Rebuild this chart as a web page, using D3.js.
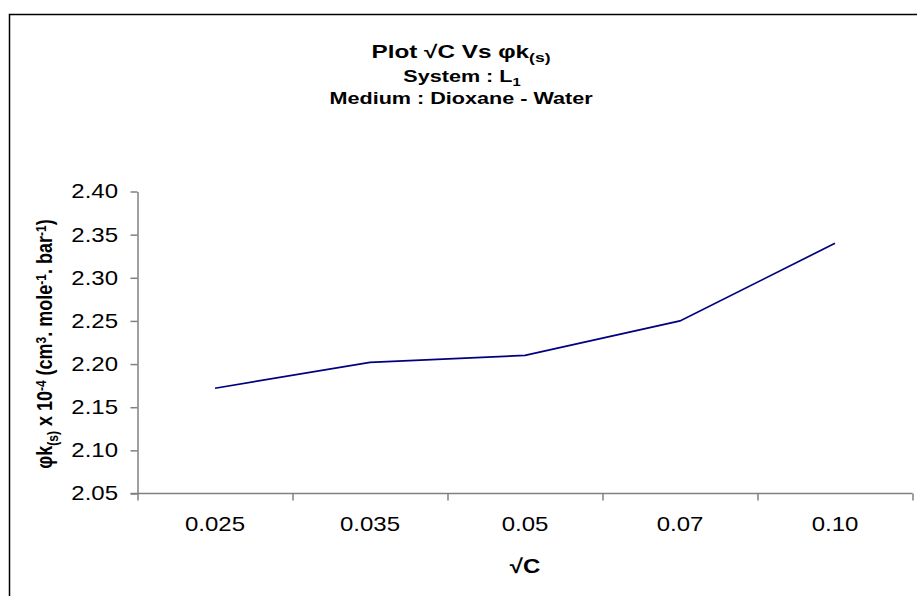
<!DOCTYPE html>
<html>
<head>
<meta charset="utf-8">
<script src="https://cdn.jsdelivr.net/npm/d3@7"></script>
<style>
  body { margin: 0; background: #fff; }
  svg { font-family: Arial, "Liberation Sans", sans-serif; }
</style>
</head>
<body>
<div id="chart"></div>
<script>
// data
const categories = ["0.025", "0.035", "0.05", "0.07", "0.10"];
const phiK = [2.172, 2.202, 2.210, 2.250, 2.340];
const yTicks = [2.05, 2.10, 2.15, 2.20, 2.25, 2.30, 2.35, 2.40];

const width = 917;
const height = 596;
const margin = { top: 191.5, left: 137.5, right: 4.5, bottom: 102.5 };
// the original chart was stretched sideways, so its text is wider than it is tall
const stretch = 1.2;
const titleStretch = 1.35;

const svg = d3.select("#chart").append("svg")
    .attr("width", width)
    .attr("height", height);

// outer chart border (runs off the right and bottom edges)
svg.append("rect")
    .attr("x", 9.5)
    .attr("y", 14.5)
    .attr("width", 1000)
    .attr("height", 1000)
    .attr("fill", "none")
    .attr("stroke", "#000")
    .attr("stroke-width", 1.5);

const xBand = d3.scaleBand().domain(categories).range([margin.left, width - margin.right]);
const xEdge = d3.scaleLinear().domain([0, categories.length]).range([margin.left, width - margin.right]);
const y = d3.scaleLinear().domain([2.05, 2.40]).range([height - margin.bottom, margin.top]);

// y axis
const yAxis = svg.append("g")
    .attr("transform", `translate(${margin.left},0)`)
    .call(d3.axisLeft(y).tickValues(yTicks).tickFormat(d3.format(".2f")).tickSize(7).tickSizeOuter(0));
yAxis.selectAll("text").attr("x", -19.5 / stretch);

// x axis: ticks on category edges, labels at band centres
const xTickAxis = svg.append("g")
    .attr("transform", `translate(0,${height - margin.bottom})`)
    .call(d3.axisBottom(xEdge).tickValues(d3.range(categories.length + 1)).tickFormat("").tickSize(7).tickSizeOuter(0));

xTickAxis.select(".domain").attr("d", `M${margin.left - 7},0H${width - margin.right}`);

const xLabelAxis = svg.append("g")
    .attr("transform", `translate(0,${height - margin.bottom})`)
    .call(d3.axisBottom(xBand).tickSize(0).tickSizeOuter(0));
xLabelAxis.select(".domain").remove();
xLabelAxis.selectAll("text").attr("dy", null).attr("y", 38);

svg.selectAll(".domain, .tick line")
    .attr("stroke", "#808080")
    .attr("stroke-width", 1.5);

svg.selectAll(".tick text")
    .attr("fill", "#000")
    .attr("transform", `scale(${stretch},1)`)
    .style("font-size", "20px");

// the line
const line = d3.line()
    .x((d, i) => xBand(categories[i]) + xBand.bandwidth() / 2)
    .y(d => y(d));

svg.append("path")
    .datum(phiK)
    .attr("d", line)
    .attr("fill", "none")
    .attr("stroke", "#000080")
    .attr("stroke-width", 1.7);

// titles
const title = svg.append("text")
    .attr("transform", `translate(461,58) scale(${titleStretch},1)`)
    .attr("text-anchor", "middle")
    .style("font-weight", "bold")
    .style("font-size", "18px");
title.append("tspan").text("Plot √C Vs φk");
title.append("tspan").attr("dy", 4).style("font-size", "13px").text("(s)");

const sub1 = svg.append("text")
    .attr("transform", `translate(462,82) scale(${titleStretch},1)`)
    .attr("text-anchor", "middle")
    .style("font-weight", "bold")
    .style("font-size", "16px");
sub1.append("tspan").text("System : L");
sub1.append("tspan").attr("dy", 4).style("font-size", "11px").text("1");

svg.append("text")
    .attr("transform", `translate(461,104) scale(${titleStretch},1)`)
    .attr("text-anchor", "middle")
    .style("font-weight", "bold")
    .style("font-size", "16px")
    .text("Medium : Dioxane - Water");

// x axis title
svg.append("text")
    .attr("transform", `translate(${xEdge(categories.length / 2)},573) scale(${stretch},1)`)
    .attr("text-anchor", "middle")
    .style("font-weight", "bold")
    .style("font-size", "20px")
    .text("√C");

// y axis title
const yTitle = svg.append("text")
    .attr("transform", `translate(52,344) scale(${stretch},1) rotate(-90)`)
    .attr("text-anchor", "middle")
    .style("font-weight", "bold")
    .style("font-size", "18px");
const parts = [
    ["φk", 0], ["(s)", 1], [" x 10", 0], ["-4", -1], [" (cm", 0], ["3", -1],
    [". mole", 0], ["-1", -1], [". bar", 0], ["-1", -1], [")", 0]
];
let shift = 0;
parts.forEach(([t, s]) => {
    const dy = s * 5 - shift;
    shift = s * 5;
    yTitle.append("tspan")
        .attr("dy", dy)
        .style("font-size", s === 0 ? "18px" : "12px")
        .text(t);
});
</script>
</body>
</html>
